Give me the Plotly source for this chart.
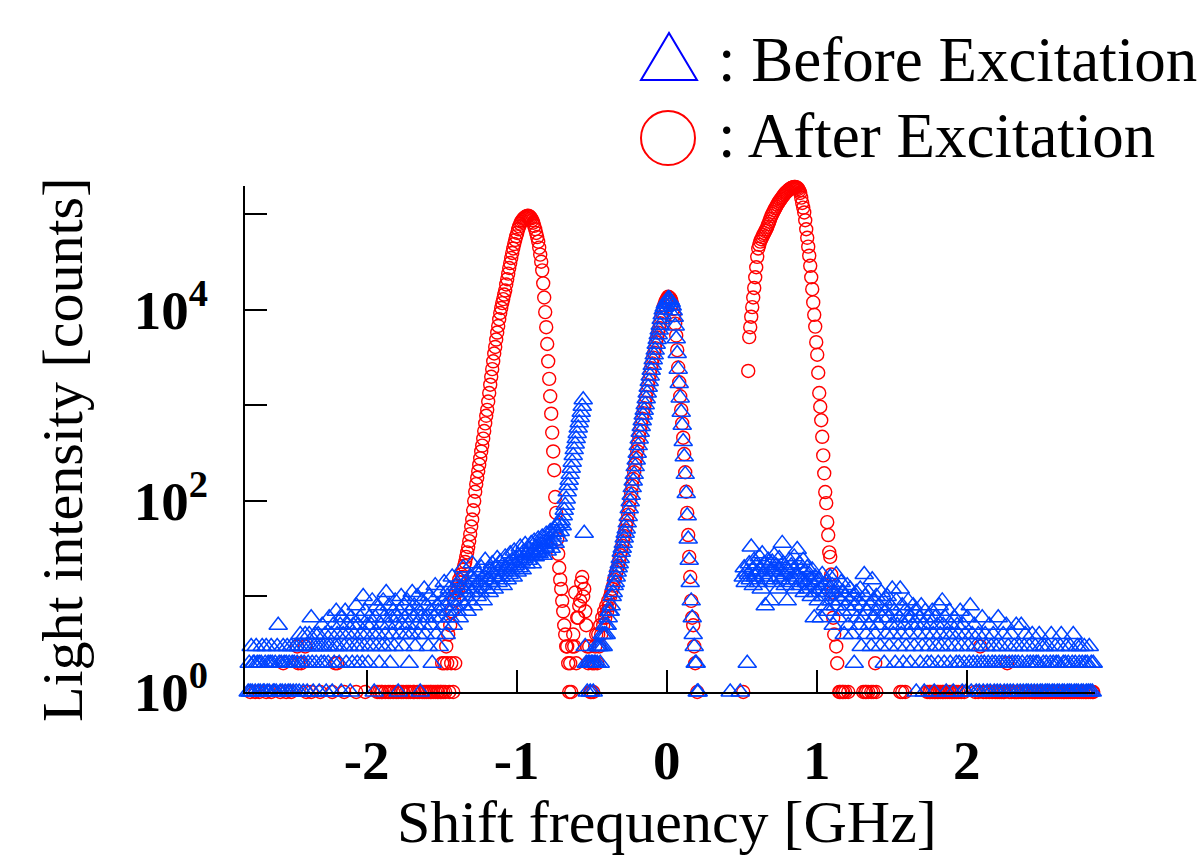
import numpy as np
import plotly.graph_objects as go

# Frequency grid of the spectrometer channels (GHz)
FREQ_START = -2.79
FREQ_STEP = 0.006667

# Photon counts per channel, before excitation
before_counts = [
    1, 2, 1, 3, 1, 2, 2, 1, 3, 2,
    1, 2, 1, 2, 3, 1, 1, 2, 3, 1,
    2, 1, 2, 3, 2, 1, 1, 2, 1, 3,
    5, 2, 1, 2, 1, 3, 2, 1, 2, 3,
    1, 2, 1, 3, 2, 1, 2, 3, 1, 2,
    3, 1, 4, 2, 3, 1, 2, 4, 3, 1,
    2, 4, 3, 6, 2, 1, 3, 4, 2, 3,
    4, 1, 3, 2, 5, 3, 2, 4, 1, 3,
    2, 6, 3, 4, 1, 5, 2, 3, 7, 4,
    3, 2, 5, 1, 6, 4, 3, 7, 2, 5,
    4, 3, 1, 6, 2, 5, 4, 3, 8, 2,
    5, 3, 6, 4, 2, 10, 3, 7, 4, 5,
    2, 6, 3, 5, 9, 4, 1, 6, 3, 8,
    4, 2, 7, 5, 3, 9, 6, 4, 11, 3,
    5, 8, 2, 6, 4, 7, 3, 9, 5, 6,
    1, 7, 4, 10, 5, 3, 8, 6, 4, 9,
    5, 2, 7, 4, 11, 6, 8, 3, 5, 10,
    4, 7, 1, 6, 9, 5, 12, 4, 8, 6,
    3, 10, 7, 5, 2, 9, 6, 13, 4, 8,
    7, 3, 11, 6, 9, 5, 14, 8, 4, 10,
    7, 12, 6, 9, 16, 5, 11, 8, 13, 7,
    10, 6, 15, 9, 12, 20, 8, 14, 11, 7,
    13, 9, 16, 11, 22, 8, 15, 12, 18, 10,
    14, 17, 11, 20, 13, 9, 16, 24, 12, 18,
    15, 11, 19, 14, 22, 17, 12, 20, 16, 25,
    14, 19, 23, 16, 21, 13, 18, 26, 20, 15,
    22, 17, 28, 19, 24, 16, 30, 21, 25, 18,
    27, 20, 33, 23, 19, 29, 25, 35, 22, 28,
    24, 31, 27, 36, 22, 30, 38, 26, 33, 29,
    40, 28, 35, 31, 42, 27, 37, 33, 45, 30,
    39, 35, 48, 32, 44, 38, 52, 36, 47, 55,
    42, 58, 48, 62, 55, 70, 80, 90, 105, 125,
    145, 165, 190, 220, 255, 300, 345, 395, 450, 510,
    580, 660, 750, 850, 980, 1150, 46, 3, 2, 1,
    2, 2, 1, 2, 2, 1, 2, 2, 3, 2,
    3, 3, 2, 3, 4, 3, 4, 5, 4, 5,
    6, 7, 7, 8, 10, 11, 13, 14, 16, 18,
    20, 22, 25, 29, 32, 36, 41, 46, 51, 59,
    69, 83, 98, 115, 138, 162, 190, 229, 269, 316,
    380, 447, 525, 603, 692, 794, 891, 1020, 1175, 1350,
    1550, 1780, 2040, 2340, 2630, 3020, 3390, 3800, 4370, 4900,
    5500, 6170, 6920, 7940, 8910, 10000, 10700, 11500, 12000, 12600,
    13200, 13000, 12600, 12000, 11000, 9800, 8400, 6800, 5000, 3500,
    2400, 1700, 1200, 850, 620, 420, 290, 190, 120, 70,
    40, 24, 14, 9, 6, 4, 3, 2, 2, 1,
    1, 0, 0, 0, 0, 0, 0, 0, 0, 0,
    0, 0, 0, 0, 0, 0, 0, 0, 0, 0,
    0, 0, 0, 0, 0, 0, 0, 0, 0, 0,
    0, 0, 1, 0, 0, 0, 0, 0, 0, 0,
    0, 0, 1, 0, 0, 16, 20, 14, 18, 2,
    17, 22, 15, 33, 19, 13, 24, 16, 21, 18,
    14, 26, 19, 12, 28, 17, 22, 8, 15, 20,
    24, 16, 9, 19, 23, 14, 27, 18, 21, 16,
    12, 25, 19, 15, 36, 22, 17, 13, 20, 9,
    18, 24, 15, 21, 14, 19, 26, 12, 17, 31,
    16, 22, 13, 19, 15, 24, 11, 18, 14, 20,
    12, 17, 15, 10, 19, 13, 6, 16, 11, 14,
    9, 15, 12, 6, 17, 10, 13, 8, 14, 11,
    7, 12, 16, 9, 13, 5, 11, 8, 17, 10,
    6, 12, 9, 14, 7, 11, 4, 10, 8, 13,
    5, 9, 12, 7, 4, 10, 2, 8, 11, 6,
    9, 5, 12, 3, 8, 6, 17, 10, 4, 7,
    11, 5, 8, 3, 15, 9, 6, 4, 10, 7,
    5, 8, 3, 11, 6, 9, 2, 7, 4, 10,
    6, 3, 8, 5, 12, 4, 7, 2, 9, 5,
    3, 6, 12, 4, 8, 2, 5, 7, 3, 6,
    9, 4, 2, 6, 5, 8, 3, 7, 1, 5,
    4, 6, 2, 8, 3, 5, 1, 7, 4, 2,
    6, 3, 5, 2, 7, 4, 1, 6, 3, 5,
    2, 8, 4, 3, 9, 5, 2, 6, 1, 4,
    3, 7, 2, 5, 4, 1, 6, 3, 2, 5,
    4, 2, 7, 3, 1, 5, 2, 4, 1, 6,
    3, 2, 8, 1, 4, 2, 5, 3, 1, 2,
    4, 1, 3, 2, 6, 1, 2, 4, 3, 1,
    2, 5, 1, 3, 2, 4, 1, 2, 3, 1,
    6, 2, 1, 3, 2, 4, 1, 2, 5, 1,
    3, 2, 1, 4, 2, 1, 3, 2, 5, 1,
    2, 3, 1, 5, 2, 1, 3, 4, 1, 2,
    1, 3, 2, 1, 4, 2, 1, 3, 2, 1,
    2, 4, 1, 3, 1, 2, 3, 1, 2, 1,
    3, 1, 2, 4, 1, 2, 1, 3, 2, 1,
    2, 1, 3, 4, 1, 2, 1, 2, 3, 1,
    2, 1, 3, 1, 2, 4, 1, 2, 1, 3,
    1, 2, 3, 1, 2, 1, 3, 2, 1, 2,
    1, 3, 1, 2, 1, 2,
]

# Photon counts per channel, after excitation
after_counts = [
    0, 0, 1, 0, 0, 0, 0, 1, 0, 0,
    0, 1, 0, 0, 0, 0, 0, 0, 1, 0,
    0, 0, 0, 1, 0, 0, 0, 0, 0, 0,
    0, 0, 1, 0, 0, 2, 0, 0, 1, 0,
    0, 0, 0, 1, 0, 0, 0, 0, 0, 3,
    2, 0, 0, 2, 0, 0, 0, 3, 1, 0,
    0, 0, 0, 1, 0, 0, 0, 0, 0, 0,
    0, 0, 1, 0, 0, 0, 0, 0, 0, 0,
    0, 0, 0, 0, 1, 0, 0, 2, 0, 2,
    0, 0, 0, 0, 0, 0, 1, 0, 0, 0,
    0, 0, 0, 0, 0, 0, 0, 0, 1, 0,
    0, 0, 0, 0, 0, 0, 0, 1, 0, 0,
    0, 0, 0, 0, 0, 0, 0, 0, 0, 1,
    0, 1, 0, 1, 1, 0, 0, 1, 0, 0,
    1, 0, 1, 0, 0, 1, 0, 0, 1, 0,
    1, 0, 0, 1, 0, 1, 0, 0, 1, 0,
    1, 0, 1, 0, 0, 1, 1, 0, 0, 1,
    0, 1, 0, 0, 1, 0, 1, 0, 1, 0,
    1, 0, 1, 1, 0, 1, 0, 1, 0, 1,
    1, 0, 1, 1, 2, 1, 2, 1, 3, 2,
    4, 1, 5, 2, 7, 1, 9, 2, 11, 13,
    12, 15, 14, 17, 16, 19, 21, 23, 26, 29,
    33, 38, 45, 54, 64, 80, 100, 125, 150, 175,
    205, 240, 280, 330, 380, 450, 540, 650, 780, 900,
    1100, 1350, 1650, 2000, 2400, 2900, 3500, 4100, 4900, 5800,
    6800, 8000, 9300, 10500, 11800, 13000, 14500, 16000, 18500, 21000,
    24000, 27500, 31000, 35000, 39500, 44000, 49000, 54000, 59000, 64000,
    70000, 75000, 80000, 84000, 87000, 90000, 92000, 94000, 95500, 96500,
    97000, 96000, 94000, 91000, 87000, 82000, 76000, 70000, 64000, 58000,
    52000, 45000, 38000, 32000, 26000, 19000, 13500, 9500, 6600, 4400,
    2900, 1900, 1250, 820, 520, 330, 210, 110, 75, 40,
    28, 20, 15, 12, 9, 7, 5, 4, 3, 3,
    2, 1, 2, 1, 3, 4, 3, 11, 2, 6,
    6, 8, 9, 14, 16, 10, 12, 7, 5, 3,
    2, 3, 1, 1, 2, 1, 2, 3, 4, 2,
    4, 3, 5, 4, 6, 5, 7, 6, 8, 7,
    9, 8, 10, 11, 12, 13, 15, 16, 18, 19,
    21, 24, 27, 30, 34, 38, 43, 49, 55, 62,
    72, 86, 102, 120, 144, 170, 200, 240, 282, 332,
    398, 470, 550, 632, 725, 832, 935, 1070, 1230, 1415,
    1625, 1865, 2140, 2450, 2760, 3170, 3560, 3990, 4590, 5150,
    5780, 6480, 7270, 8340, 9360, 10500, 11250, 12100, 12600, 13200,
    13800, 13500, 13200, 12500, 11500, 10200, 8800, 7200, 5400, 3800,
    2500, 1750, 1250, 900, 650, 460, 310, 200, 125, 75,
    44, 26, 16, 9, 6, 5, 3, 2, 0, 1,
    0, 0, 0, 0, 0, 0, 0, 0, 0, 0,
    0, 0, 0, 0, 0, 0, 0, 0, 0, 0,
    0, 0, 0, 0, 0, 0, 0, 0, 0, 0,
    0, 0, 0, 0, 0, 0, 0, 0, 0, 0,
    0, 0, 0, 0, 0, 1, 0, 0, 0, 0,
    2300, 5200, 6600, 8500, 10700, 13500, 17000, 22000, 28000, 36000,
    44000, 48000, 52000, 55000, 58000, 61000, 64000, 67000, 70000, 74000,
    79000, 84000, 90000, 96000, 101000, 106000, 111000, 116000, 121000, 127000,
    132000, 137000, 142000, 147000, 152000, 157000, 162000, 167000, 171000, 175000,
    179000, 183000, 186000, 189000, 191000, 193000, 194000, 194000, 193000, 190000,
    185000, 178000, 168000, 150000, 132000, 118000, 105000, 87000, 70000, 57000,
    46000, 37000, 29000, 22000, 16500, 12000, 8900, 6700, 4600, 3400,
    2200, 1350, 970, 700, 470, 300, 195, 124, 95, 60,
    44, 29, 26, 17, 11, 6, 4, 0, 3, 2,
    0, 1, 1, 0, 1, 1, 0, 1, 0, 0,
    1, 0, 0, 0, 0, 0, 0, 0, 0, 0,
    0, 0, 0, 0, 0, 1, 0, 1, 1, 0,
    1, 0, 0, 1, 0, 1, 0, 2, 1, 0,
    0, 0, 0, 0, 0, 0, 0, 0, 0, 0,
    0, 0, 0, 0, 0, 0, 0, 0, 0, 0,
    0, 0, 1, 0, 1, 0, 0, 1, 0, 0,
    0, 0, 0, 0, 0, 0, 0, 0, 0, 0,
    0, 0, 0, 0, 0, 0, 0, 0, 0, 1,
    0, 1, 1, 0, 1, 0, 1, 1, 0, 1,
    1, 0, 1, 0, 1, 1, 0, 1, 0, 1,
    0, 1, 0, 1, 1, 0, 1, 0, 1, 0,
    1, 0, 0, 1, 0, 0, 1, 0, 0, 0,
    0, 0, 0, 0, 0, 0, 0, 1, 0, 0,
    1, 0, 3, 0, 0, 1, 0, 0, 1, 0,
    0, 1, 0, 0, 1, 0, 0, 1, 0, 1,
    0, 1, 0, 1, 0, 1, 1, 0, 0, 2,
    0, 1, 0, 1, 0, 0, 1, 0, 1, 0,
    1, 0, 0, 1, 0, 1, 0, 0, 1, 0,
    0, 1, 0, 0, 1, 0, 1, 1, 0, 1,
    0, 1, 0, 1, 1, 0, 1, 0, 1, 0,
    1, 0, 1, 0, 1, 0, 0, 1, 0, 1,
    0, 1, 0, 1, 0, 1, 1, 0, 1, 0,
    1, 0, 1, 0, 1, 0, 1, 0, 0, 1,
    0, 1, 0, 1, 0, 1, 0, 1, 1, 0,
    1, 0, 1, 0, 1, 1,
]

# Axis ticks
x_tick_vals = [-2, -1, 0, 1, 2]
x_tick_text = ["-2", "-1", "0", "1", "2"]
y_label_vals = [1, 100, 10000]
y_label_text = ["10<sup>0</sup>", "10<sup>2</sup>", "10<sup>4</sup>"]
y_unlabelled_vals = [10, 1000, 100000]

BLUE = "#0044ff"
RED = "#ff0000"
SERIF = "Liberation Serif"

W, H = 1202, 858
ML, MR, MT, MB = 245, 107, 186, 166
PW, PH = W - ML - MR, H - MT - MB


def px(x):
    return (x - ML) / PW


def py(y):
    return (H - MB - y) / PH


def shown(vals):
    # zero-count channels cannot sit on a log axis
    return [v if v > 0 else None for v in vals]


freq = FREQ_START + FREQ_STEP * np.arange(len(before_counts))

fig = go.Figure()

fig.add_trace(go.Scatter(
    x=freq, y=shown(after_counts), mode="markers",
    marker=dict(symbol="circle-open", size=13, color=RED, line=dict(width=1.4, color=RED)),
    cliponaxis=False, showlegend=False, hoverinfo="skip",
))

fig.add_trace(go.Scatter(
    x=freq, y=shown(before_counts), mode="markers",
    marker=dict(symbol="triangle-up-open", size=16, color=BLUE, line=dict(width=1.5, color=BLUE)),
    cliponaxis=False, showlegend=False, hoverinfo="skip",
))

tick_style = dict(ticks="inside", ticklen=22, tickwidth=2, tickcolor="black")
axis_common = dict(
    showline=True, linecolor="black", linewidth=2,
    showgrid=False, zeroline=False, mirror=False,
    tickfont=dict(family=SERIF, size=55, color="black", weight="bold"),
    **tick_style,
)

fig.update_xaxes(
    range=[-2.8113, 2.8553], tickmode="array",
    tickvals=x_tick_vals, ticktext=x_tick_text,
    ticklabelstandoff=19, **axis_common,
)
fig.update_yaxes(
    type="log", range=[0, 5.298], tickmode="array",
    tickvals=y_label_vals, ticktext=y_label_text,
    minor=dict(tickmode="array", tickvals=y_unlabelled_vals, showgrid=False, **tick_style),
    ticklabelstandoff=24, **axis_common,
)

# Legend drawn by hand: symbol shapes plus text
shapes = [
    dict(type="path", xref="paper", yref="paper",
         path=f"M{px(641)},{py(80)} L{px(697)},{py(80)} L{px(669)},{py(33)} Z",
         line=dict(color="#0000ff", width=2), fillcolor="rgba(0,0,0,0)"),
    dict(type="circle", xref="paper", yref="paper",
         x0=px(641), x1=px(695), y0=py(165), y1=py(111),
         line=dict(color=RED, width=2), fillcolor="rgba(0,0,0,0)"),
]

annotations = [
    dict(text=": Before Excitation", x=px(716), y=py(60), xref="paper", yref="paper",
         xanchor="left", yanchor="middle", showarrow=False,
         font=dict(family=SERIF, size=63, color="black")),
    dict(text=": After Excitation", x=px(716), y=py(136), xref="paper", yref="paper",
         xanchor="left", yanchor="middle", showarrow=False,
         font=dict(family=SERIF, size=63, color="black")),
    dict(text="Shift frequency [GHz]", x=px(667), y=py(822), xref="paper", yref="paper",
         xanchor="center", yanchor="middle", showarrow=False,
         font=dict(family=SERIF, size=60, color="black")),
    dict(text="Light intensity [counts]", x=px(62), y=py(450), xref="paper", yref="paper",
         xanchor="center", yanchor="middle", showarrow=False, textangle=-90,
         font=dict(family=SERIF, size=58, color="black")),
]

fig.update_layout(
    width=W, height=H, autosize=False,
    margin=dict(l=ML, r=MR, t=MT, b=MB),
    paper_bgcolor="white", plot_bgcolor="white",
    shapes=shapes, annotations=annotations,
    showlegend=False,
)

fig.write_html("out.html")
